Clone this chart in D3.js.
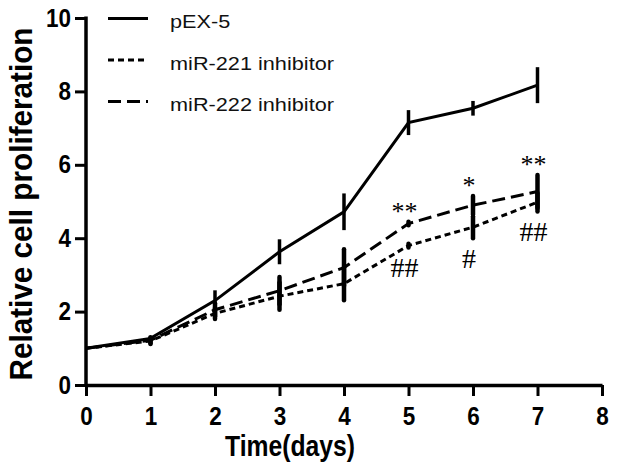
<!DOCTYPE html>
<html>
<head>
<meta charset="utf-8">
<script src="https://cdn.jsdelivr.net/npm/d3@7"></script>
<style>
	body { margin: 0; background: #fff; }
	svg { display: block; }
</style>
</head>
<body>
<div id="chart"></div>
<script>
// 日数
var days = [0, 1, 2, 3, 4, 5, 6, 7];

// 各系列の値と誤差
var pex5 = [1.0, 1.27, 2.3, 3.63, 4.72, 7.15, 7.54, 8.17];
var pex5Err = [0, 0.05, 0.28, 0.34, 0.5, 0.34, 0.2, 0.49];
var mir221 = [1.0, 1.2, 1.95, 2.42, 2.76, 3.8, 4.3, 4.98];
var mir221Err = [0, 0.08, 0.15, 0.37, 0.45, 0.05, 0.3, 0.25];
var mir222 = [1.0, 1.22, 2.05, 2.57, 3.2, 4.4, 4.9, 5.27];
var mir222Err = [0, 0.08, 0.18, 0.37, 0.5, 0.05, 0.25, 0.45];

var seriesNames = ["pEX-5", "miR-221 inhibitor", "miR-222 inhibitor"];

var xTicks = [0, 1, 2, 3, 4, 5, 6, 7, 8];
var yTicks = [0, 2, 4, 6, 8, 10];

// 有意差の記号
var starDays = [5, 6, 7];
var starLabels = ["**", "*", "**"];
var hashDays = [5, 6, 7];
var hashLabels = ["##", "#", "##"];

var width = 618;
var height = 471;

var svg = d3.select("#chart").append("svg")
	.attr("width", width)
	.attr("height", height);

svg.append("rect").attr("width", width).attr("height", height).style("fill", "#fff");

var x = d3.scaleLinear().domain([0, 8]).range([86, 602]);
var y = d3.scaleLinear().domain([0, 10]).range([385, 18]);

var series = [
	{ name: seriesNames[0], values: pex5, err: pex5Err, dash: null, barW: 3.5, cap: "butt" },
	{ name: seriesNames[1], values: mir221, err: mir221Err, dash: "6,4", barW: 4.5, cap: "round" },
	{ name: seriesNames[2], values: mir222, err: mir222Err, dash: "13,6", barW: 4.5, cap: "round" }
];

var line = d3.line()
	.x(function(d) { return x(d.day); })
	.y(function(d) { return y(d.v); });

// 線描画（破線系列を先に）
series.slice().reverse().forEach(function(s) {
	var pts = days.map(function(d, i) { return { day: d, v: s.values[i], e: s.err[i] }; });

	svg.append("path")
		.datum(pts)
		.attr("d", line)
		.style("fill", "none")
		.style("stroke", "#000")
		.style("stroke-width", 3)
		.style("stroke-dasharray", s.dash);

	// 誤差棒
	svg.selectAll(null)
		.data(pts.filter(function(d) { return d.e > 0; }))
		.enter().append("line")
		.attr("x1", function(d) { return x(d.day); })
		.attr("x2", function(d) { return x(d.day); })
		.attr("y1", function(d) { return y(d.v + d.e); })
		.attr("y2", function(d) { return y(d.v - d.e); })
		.style("stroke", "#000")
		.style("stroke-width", s.barW)
		.style("stroke-linecap", s.cap);
});

// 軸
var xAxis = d3.axisBottom(x).tickValues(xTicks).tickSize(11).tickSizeOuter(0).tickPadding(11);
var yAxis = d3.axisLeft(y).tickValues(yTicks).tickSize(11).tickSizeOuter(0).tickPadding(4);

var gx = svg.append("g").attr("transform", "translate(0," + y(0) + ")").call(xAxis);
var gy = svg.append("g").attr("transform", "translate(" + x(0) + ",0)").call(yAxis);

[gx, gy].forEach(function(g) {
	g.select(".domain").style("stroke", "#000").style("stroke-width", 3.5);
	g.selectAll(".tick line").style("stroke", "#000").style("stroke-width", 3);
	g.selectAll(".tick text")
		.style("font-family", "'Liberation Sans', Arial, sans-serif")
		.style("font-weight", "bold")
		.style("font-size", "25px")
		.style("fill", "#000")
		.attr("textLength", function(d) { return String(d).length * 12.5; })
		.attr("lengthAdjust", "spacingAndGlyphs");
});
gy.select(".domain").attr("d", "M0," + (y(10) - 1.5) + "V" + (y(0) + 1.5));

// 軸タイトル
svg.append("text")
	.attr("x", 290)
	.attr("y", 456)
	.attr("text-anchor", "middle")
	.attr("textLength", 130)
	.attr("lengthAdjust", "spacingAndGlyphs")
	.style("font-family", "'Liberation Sans', Arial, sans-serif")
	.style("font-weight", "bold")
	.style("font-size", "29px")
	.style("fill", "#000")
	.text("Time(days)");

svg.append("text")
	.attr("transform", "translate(32,204) rotate(-90)")
	.attr("text-anchor", "middle")
	.attr("textLength", 353)
	.attr("lengthAdjust", "spacingAndGlyphs")
	.style("font-family", "'Liberation Sans', Arial, sans-serif")
	.style("font-weight", "bold")
	.style("font-size", "32px")
	.style("fill", "#000")
	.text("Relative cell proliferation");

// 凡例
var legend = svg.selectAll(".legend")
	.data(series)
	.enter().append("g")
	.attr("transform", function(d, i) { return "translate(108," + (18.5 + i * 41.5) + ")"; });

legend.append("line")
	.attr("x1", 0).attr("x2", 40)
	.style("stroke", "#000")
	.style("stroke-width", 3)
	.style("stroke-dasharray", function(d) { return d.dash; });

legend.append("text")
	.attr("transform", "translate(62,9.5) scale(1.24,1)")
	.style("font-family", "'Liberation Sans', Arial, sans-serif")
	.style("font-size", "17.5px")
	.style("fill", "#111")
	.text(function(d) { return d.name; });

// 有意差の記号（miR-222の上、miR-221の下）
svg.selectAll(".star")
	.data(starDays)
	.enter().append("text")
	.attr("x", function(d) { return x(d) - 4; })
	.attr("y", function(d) { var i = days.indexOf(d); return y(mir222[i] + mir222Err[i]) - 2; })
	.attr("text-anchor", "middle")
	.style("font-family", "'Liberation Serif', 'Times New Roman', serif")
	.style("font-size", "26px")
	.style("fill", "#000")
	.text(function(d, i) { return starLabels[i]; });

svg.selectAll(".hash")
	.data(hashDays)
	.enter().append("text")
	.attr("x", function(d) { return x(d) - 4; })
	.attr("y", function(d) { var i = days.indexOf(d); return y(mir221[i] - mir221Err[i]) + 30; })
	.attr("text-anchor", "middle")
	.style("font-family", "'Liberation Serif', 'Times New Roman', serif")
	.style("font-size", "28px")
	.style("fill", "#000")
	.text(function(d, i) { return hashLabels[i]; });
</script>
</body>
</html>
